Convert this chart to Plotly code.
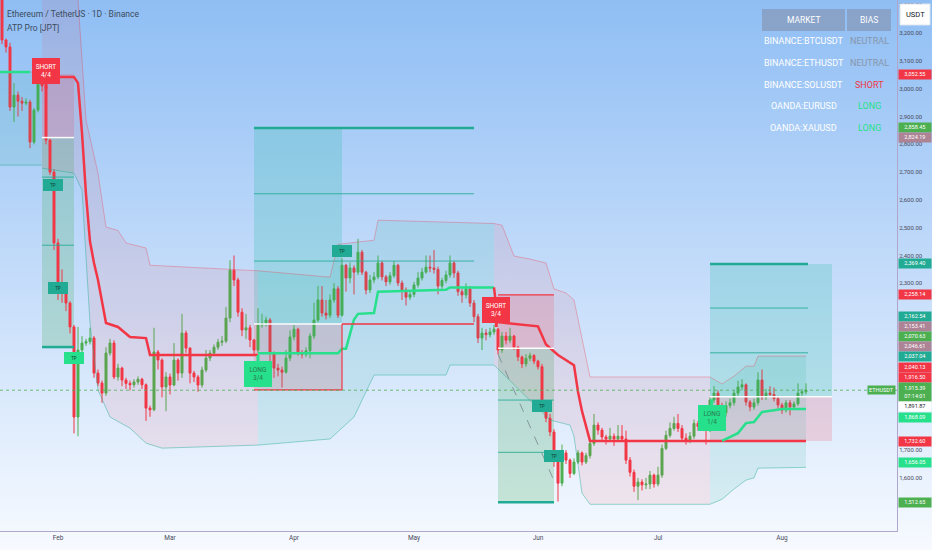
import pandas as pd
import plotly.graph_objects as go

# ---------------------------------------------------------------------------
# Daily candles (ETHUSDT, 1D), first candle 2025-01-18; open = previous close
# ---------------------------------------------------------------------------
FIRST_DAY = "2025-01-18"
first_open = 3330

closes = [
    3175, 3150, 2934, 2977, 2955, 2948, 2952, 2808, 2923, 3020,
    3010, 2815, 2700, 2445, 2286, 2265, 2229, 2143, 1819, 2060,
    2085, 2090, 2103, 1977, 1941, 1905, 2049, 2085, 1963, 1995,
    1952, 1940, 1935, 1945, 1955, 1935, 1851, 1845, 2053, 2024,
    1927, 1963, 1934, 2024, 1977, 2121, 2067, 1977, 1963, 1934,
    1988, 2031, 2049, 2070, 2088, 2092, 2175, 2347, 2312, 2196,
    2132, 2140, 2096, 2060, 2150, 2157, 2168, 2049, 1995, 1988,
    1980, 2031, 2107, 2135, 2049, 2045, 2057, 2110, 2168, 2240,
    2193, 2185, 2240, 2280, 2185, 2365, 2319, 2355, 2340, 2412,
    2340, 2276, 2312, 2323, 2373, 2323, 2305, 2327, 2365, 2301,
    2276, 2250, 2260, 2294, 2319, 2340, 2358, 2355, 2350, 2290,
    2310, 2330, 2373, 2337, 2270, 2258, 2280, 2229, 2180, 2103,
    2121, 2115, 2125, 2135, 2060, 2110, 2095, 2110, 2070, 2035,
    2010, 2030, 2040, 2020, 2000, 1855, 1815, 1765, 1664, 1581,
    1690, 1664, 1616, 1657, 1690, 1657, 1680, 1724, 1790, 1772,
    1747, 1740, 1750, 1740, 1750, 1740, 1664, 1620, 1570, 1585,
    1575, 1578, 1610, 1578, 1610, 1706, 1753, 1778, 1796, 1778,
    1743, 1735, 1750, 1796, 1785, 1800, 1772, 1880, 1905, 1860,
    1834, 1860, 1870, 1905, 1927, 1935, 1873, 1855, 1870, 1952,
    1890, 1905, 1900, 1885, 1862, 1844, 1870, 1855, 1866, 1905,
    1910, 1915.39,
]
highs = [
    3400, 3180, 3165, 3020, 2990, 2970, 2965, 2960, 2930, 3040,
    3025, 3030, 2820, 2710, 2460, 2350, 2290, 2235, 2150, 2143,
    2110, 2100, 2140, 2110, 1990, 1950, 2070, 2100, 2095, 2010,
    2000, 1960, 1950, 1955, 1965, 1960, 1940, 1860, 2140, 2060,
    2030, 1980, 1975, 2085, 2030, 2190, 2130, 2070, 1985, 1970,
    2000, 2060, 2060, 2080, 2100, 2110, 2215, 2383, 2400, 2320,
    2210, 2190, 2150, 2100, 2210, 2190, 2180, 2175, 2055, 2010,
    2000, 2060, 2130, 2150, 2140, 2060, 2070, 2120, 2230, 2290,
    2290, 2240, 2260, 2300, 2290, 2390, 2370, 2375, 2365, 2460,
    2420, 2345, 2330, 2340, 2400, 2380, 2330, 2340, 2380, 2370,
    2310, 2285, 2275, 2305, 2340, 2355, 2400, 2400, 2420, 2360,
    2320, 2345, 2400, 2380, 2345, 2280, 2300, 2290, 2240, 2190,
    2140, 2135, 2140, 2150, 2140, 2125, 2125, 2140, 2115, 2075,
    2040, 2045, 2050, 2045, 2025, 2010, 1870, 1830, 1775, 1680,
    1720, 1700, 1670, 1670, 1700, 1695, 1690, 1735, 1830, 1800,
    1780, 1755, 1780, 1760, 1790, 1790, 1770, 1675, 1630, 1600,
    1595, 1600, 1625, 1615, 1640, 1720, 1770, 1800, 1820, 1830,
    1790, 1760, 1765, 1810, 1805, 1830, 1810, 1890, 1930, 1915,
    1870, 1875, 1885, 1915, 1950, 1955, 1940, 1880, 1885, 1980,
    1990, 1920, 1930, 1925, 1895, 1870, 1880, 1880, 1875, 1940,
    1920, 1940,
]
lows = [
    3160, 3130, 2920, 2880, 2900, 2920, 2940, 2786, 2800, 2915,
    2990, 2800, 2690, 2420, 2240, 2230, 2200, 2120, 1760, 1750,
    2040, 2075, 2080, 1960, 1930, 1870, 1895, 2040, 1955, 1950,
    1930, 1920, 1915, 1925, 1935, 1920, 1805, 1820, 1840, 1990,
    1890, 1840, 1900, 1930, 1950, 1960, 2050, 1940, 1945, 1910,
    1925, 1980, 2020, 2040, 2060, 2075, 2085, 2160, 2290, 2180,
    2110, 2100, 2070, 2040, 2050, 2140, 2145, 2020, 1960, 1965,
    1925, 1975, 2020, 2095, 2040, 2030, 2035, 2030, 2100, 2160,
    2180, 2170, 2175, 2230, 2175, 2180, 2270, 2300, 2260, 2330,
    2330, 2260, 2265, 2300, 2315, 2310, 2290, 2295, 2320, 2290,
    2240, 2220, 2240, 2250, 2285, 2310, 2335, 2340, 2335, 2260,
    2280, 2300, 2320, 2320, 2255, 2230, 2245, 2215, 2160, 2085,
    2060, 2095, 2105, 2115, 2045, 2050, 2080, 2085, 2060, 2020,
    1995, 2000, 2020, 2010, 1990, 1845, 1800, 1750, 1640, 1515,
    1570, 1650, 1600, 1610, 1650, 1645, 1650, 1670, 1715, 1755,
    1735, 1720, 1735, 1715, 1735, 1730, 1650, 1605, 1550, 1520,
    1555, 1560, 1560, 1565, 1570, 1600, 1700, 1745, 1770, 1765,
    1730, 1720, 1725, 1740, 1770, 1775, 1720, 1765, 1870, 1800,
    1800, 1820, 1850, 1860, 1895, 1915, 1860, 1840, 1845, 1860,
    1880, 1880, 1890, 1875, 1850, 1830, 1835, 1825, 1845, 1860,
    1895, 1900,
]

# Axis ticks
month_ticks = ["2025-02-01", "2025-03-01", "2025-04-01", "2025-05-01",
               "2025-06-01", "2025-07-01", "2025-08-01"]
month_labels = ["Feb", "Mar", "Apr", "May", "Jun", "Jul", "Aug"]
price_ticks = list(range(1500, 3301, 100))

# ---------------------------------------------------------------------------
# ATP Pro indicator: trailing stop (short = red, long = green)
# ---------------------------------------------------------------------------
trail_long_0 = [("2025-01-17", 3060), ("2025-01-25", 3060)]
trail_short_1 = [("2025-01-29", 3042), ("2025-02-05", 3042), ("2025-02-06", 3020),
                 ("2025-02-07", 2840), ("2025-02-08", 2620), ("2025-02-09", 2450),
                 ("2025-02-10", 2373), ("2025-02-11", 2312), ("2025-02-13", 2157),
                 ("2025-02-16", 2143), ("2025-02-19", 2107), ("2025-02-23", 2103),
                 ("2025-02-24", 2042), ("2025-03-23", 2042)]
trail_long_2 = [("2025-03-23", 2048), ("2025-04-12", 2048), ("2025-04-13", 2065),
                ("2025-04-14", 2065), ("2025-04-16", 2170), ("2025-04-17", 2190),
                ("2025-04-21", 2193), ("2025-04-22", 2270), ("2025-05-09", 2277),
                ("2025-05-10", 2285), ("2025-05-21", 2285)]
trail_short_3 = [("2025-05-21", 2285), ("2025-05-22", 2160), ("2025-06-01", 2145),
                 ("2025-06-03", 2080), ("2025-06-06", 2042), ("2025-06-10", 2005),
                 ("2025-06-11", 1910), ("2025-06-12", 1840), ("2025-06-14", 1733),
                 ("2025-08-07", 1733)]
trail_long_4 = [("2025-07-17", 1733), ("2025-07-21", 1761), ("2025-07-23", 1797),
                ("2025-07-25", 1801), ("2025-07-27", 1837), ("2025-08-01", 1848),
                ("2025-08-07", 1848)]

# Volatility band (upper / lower) per regime
band_up_0 = [("2025-01-17", 3060), ("2025-01-28", 3060)]
band_lo_0 = [("2025-01-17", 2725), ("2025-01-28", 2725)]
band_up_a = [("2025-01-28", 3400), ("2025-02-06", 3320), ("2025-02-08", 2887),
             ("2025-02-11", 2696), ("2025-02-13", 2502), ("2025-02-16", 2490),
             ("2025-02-18", 2445), ("2025-02-23", 2427), ("2025-02-24", 2365),
             ("2025-03-23", 2345)]
band_lo_a = [("2025-01-28", 2714), ("2025-02-05", 2696), ("2025-02-07", 2635),
             ("2025-02-09", 2157), ("2025-02-11", 1916), ("2025-02-14", 1819),
             ("2025-02-19", 1779), ("2025-02-23", 1725), ("2025-02-27", 1707),
             ("2025-03-23", 1718)]
band_up_b = [("2025-03-23", 2345), ("2025-04-10", 2322), ("2025-04-12", 2440),
             ("2025-04-21", 2455), ("2025-04-22", 2527), ("2025-05-21", 2515)]
band_lo_b = [("2025-03-23", 1718), ("2025-04-10", 1740), ("2025-04-16", 1819),
             ("2025-04-21", 1970), ("2025-05-09", 1970), ("2025-05-10", 2006),
             ("2025-05-21", 2006)]
band_up_c = [("2025-05-21", 2515), ("2025-05-23", 2509), ("2025-05-26", 2398),
             ("2025-05-30", 2387), ("2025-06-03", 2373), ("2025-06-05", 2280),
             ("2025-06-08", 2265), ("2025-06-10", 2240), ("2025-06-14", 1963),
             ("2025-07-14", 1963)]
band_lo_c = [("2025-05-21", 2006), ("2025-06-04", 1808), ("2025-06-09", 1790),
             ("2025-06-10", 1750), ("2025-06-12", 1545), ("2025-06-14", 1505),
             ("2025-07-14", 1505)]
band_up_d = [("2025-07-14", 1963), ("2025-07-17", 1938), ("2025-07-20", 1966),
             ("2025-07-23", 2002), ("2025-07-25", 2002), ("2025-07-26", 2038),
             ("2025-08-07", 2038)]
band_lo_d = [("2025-07-14", 1505), ("2025-07-17", 1523), ("2025-07-20", 1560),
             ("2025-07-23", 1592), ("2025-07-25", 1600), ("2025-07-26", 1635),
             ("2025-08-07", 1638)]

# Positions (entry / stop / target / take-profit levels)
pos_side = ["short", "long", "short", "long"]
pos_start = ["2025-01-28", "2025-03-22", "2025-05-22", "2025-07-14"]
pos_box_end = ["2025-02-05", "2025-04-13", "2025-06-05", "2025-08-13 12:00"]
pos_line_end = ["2025-02-05", "2025-05-16", "2025-06-05", "2025-08-07 12:00"]
pos_entry = [2824.19, 2153.41, 2066.61, 1891.87]
pos_stop = [3052.55, 1916.50, 2258.14, 1732.60]
pos_target = [2070.63, 2858.45, 1512.65, 2369.40]
pos_tp1 = [2682, 2622, 1880, 2050]
pos_tp2 = [2437, 2380, 1692, 2211]

# dashed trade path of the 3/4 short
path_c = [("2025-05-22", 2045), ("2025-06-05", 1590)]

# Signal labels
sig_dates = ["2025-01-29", "2025-03-23", "2025-05-21 14:00", "2025-07-14 10:00"]
sig_prices = [3002, 2042, 2143, 1883]
sig_texts = ["SHORT<br>4/4", "LONG<br>3/4", "SHORT<br>3/4", "LONG<br>1/4"]

# Take-profit hit markers
tp_dates = ["2025-01-30 18:00", "2025-02-01", "2025-02-05", "2025-04-13",
            "2025-06-02", "2025-06-05"]
tp_prices = [2653, 2282, 2031, 2416, 1859, 1679]
tp_final = [False, False, True, False, False, False]

# Right-axis price tags (display order, top to bottom)
tag_values = [3052.55, 2858.45, 2824.19, 2369.40, 2258.14, 2162.54, 2153.41,
              2070.63, 2046.61, 2037.04, 2040.13, 1916.50, 1915.39, 1891.87,
              1868.09, 1732.60, 1656.05, 1512.65]
tag_kinds = ["stop", "target", "entry", "tp", "stop", "tp", "entry",
             "target", "entry", "tp", "stop", "stop", "last", "open",
             "trail", "stop", "trail", "target"]
last_price = 1915.39
countdown = "07:14:01"

# Bias table
markets = ["BINANCE:BTCUSDT", "BINANCE:ETHUSDT", "BINANCE:SOLUSDT",
           "OANDA:EURUSD", "OANDA:XAUUSD"]
biases = ["NEUTRAL", "NEUTRAL", "SHORT", "LONG", "LONG"]

# ---------------------------------------------------------------------------
# Styling
# ---------------------------------------------------------------------------
RED = "#f23645"
GREEN = "#4caf50"
LIME = "#27e08b"
TEAL = "#22ab94"
MAUVE = "#ad8496"
W, H = 932, 550
PLOT_W, PLOT_H = 897, 531
Y0, Y1 = 1409, 3319
X_RANGE = ["2025-01-17 12:00", "2025-08-29 18:00"]


def py(ypix):
    """Pixel row (from plot top) -> paper y."""
    return 1 - ypix / PLOT_H


def px(xpix):
    return xpix / PLOT_W


def price_to_px(p):
    return (Y1 - p) / (Y1 - Y0) * PLOT_H


dates = pd.date_range(FIRST_DAY, periods=len(closes), freq="D")
opens = [first_open] + closes[:-1]

fig = go.Figure()

# position boxes
for side, s, be, le, en, st, tg, t1, t2 in zip(pos_side, pos_start, pos_box_end,
                                                pos_line_end, pos_entry, pos_stop,
                                                pos_target, pos_tp1, pos_tp2):
    tgt_fill = "rgba(76,175,100,0.25)" if side == "short" else "rgba(34,185,165,0.22)"
    fig.add_shape(type="rect", layer="below", x0=s, x1=be, y0=en, y1=tg,
                  fillcolor=tgt_fill, line_width=0)
    fig.add_shape(type="rect", layer="below", x0=s, x1=be, y0=en, y1=st,
                  fillcolor="rgba(242,54,69,0.17)", line_width=0)
    fig.add_shape(type="line", x0=s, x1=le, y0=tg, y1=tg,
                  line=dict(color=TEAL, width=2.5))
    for tp in (t1, t2):
        fig.add_shape(type="line", x0=s, x1=le, y0=tp, y1=tp,
                      line=dict(color="rgba(34,171,148,0.85)", width=1))
    fig.add_shape(type="line", x0=s, x1=be, y0=en, y1=en,
                  line=dict(color="rgba(255,255,255,0.95)", width=1.5))
    if pd.Timestamp(le) > pd.Timestamp(be):
        # stop moved to entry: red guide continues after the box
        fig.add_shape(type="line", x0=be, x1=le, y0=en, y1=en,
                      line=dict(color=RED, width=1.5))
        fig.add_shape(type="line", x0=be, x1=be, y0=st, y1=en,
                      line=dict(color=RED, width=1.2))
        fig.add_shape(type="line", x0=s, x1=be, y0=st, y1=st,
                      line=dict(color=RED, width=1.2))
    if side == "short" and s > "2025-05-01":
        fig.add_shape(type="line", x0=s, x1=be, y0=st, y1=st,
                      line=dict(color=RED, width=1.2))

# band fills and edges
bands = [(band_up_0, band_lo_0, "long"), (band_up_a, band_lo_a, "short"),
         (band_up_b, band_lo_b, "long"), (band_up_c, band_lo_c, "short"),
         (band_up_d, band_lo_d, "long")]
for up, lo, regime in bands:
    fill = "rgba(242,54,69,0.09)" if regime == "short" else "rgba(34,171,148,0.12)"
    xs = [d for d, _ in up] + [d for d, _ in lo][::-1]
    ys = [v for _, v in up] + [v for _, v in lo][::-1]
    fig.add_trace(go.Scatter(x=xs, y=ys, fill="toself", fillcolor=fill,
                             mode="lines", line=dict(width=0),
                             hoverinfo="skip", showlegend=False))
    fig.add_trace(go.Scatter(x=[d for d, _ in up], y=[v for _, v in up],
                             mode="lines", line=dict(color="rgba(242,54,69,0.32)", width=1),
                             hoverinfo="skip", showlegend=False))
    fig.add_trace(go.Scatter(x=[d for d, _ in lo], y=[v for _, v in lo],
                             mode="lines", line=dict(color="rgba(34,171,148,0.45)", width=1),
                             hoverinfo="skip", showlegend=False))

# dashed trade path
fig.add_trace(go.Scatter(x=[d for d, _ in path_c], y=[v for _, v in path_c],
                         mode="lines", line=dict(color="rgba(110,120,130,0.7)",
                                                 width=1, dash="dash"),
                         hoverinfo="skip", showlegend=False))

# candles
fig.add_trace(go.Candlestick(
    x=dates, open=opens, high=highs, low=lows, close=closes,
    increasing=dict(line=dict(color=GREEN, width=1), fillcolor=GREEN),
    decreasing=dict(line=dict(color=RED, width=1), fillcolor=RED),
    whiskerwidth=0, hoverinfo="skip", showlegend=False,
))

# trailing stop
for seg, col in [(trail_long_0, LIME), (trail_short_1, RED), (trail_long_2, LIME),
                 (trail_short_3, RED), (trail_long_4, LIME)]:
    fig.add_trace(go.Scatter(x=[d for d, _ in seg], y=[v for _, v in seg],
                             mode="lines", line=dict(color=col, width=2.5),
                             hoverinfo="skip", showlegend=False))

# last price dotted line
fig.add_shape(type="line", xref="paper", x0=0, x1=1, y0=last_price, y1=last_price,
              line=dict(color="rgba(76,175,80,0.8)", width=1, dash="dot"))

# signal labels
for d, p, t in zip(sig_dates, sig_prices, sig_texts):
    is_short = t.startswith("SHORT")
    col = RED if is_short else LIME
    fig.add_annotation(x=d, y=p, text=t, showarrow=True, arrowhead=0,
                       arrowwidth=3, arrowcolor=col, ax=0,
                       ay=-17 if is_short else 19, standoff=0,
                       bgcolor=col, bordercolor=col, borderpad=2,
                       font=dict(size=6.5, color="white" if is_short else "#2a7a52"),
                       width=22, height=20, xanchor="center", yanchor="middle")

# TP hit markers
for d, p, fin in zip(tp_dates, tp_prices, tp_final):
    col = LIME if fin else TEAL
    fig.add_annotation(x=d, y=p, text="TP", showarrow=False, bgcolor=col,
                       bordercolor=col, borderpad=1, width=16, height=8,
                       xanchor="center", yanchor="middle",
                       font=dict(size=4.5, color="#0d3b33"))

# right axis price tags with simple overlap relaxation
tag_colors = {"stop": (RED, "white"), "target": (GREEN, "white"),
              "entry": (MAUVE, "white"), "tp": (TEAL, "white"),
              "last": (GREEN, "white"), "open": ("#ffffff", "#131722"),
              "trail": (LIME, "white")}
heights = [19.5 if k == "last" else 10.2 for k in tag_kinds]
pos = [price_to_px(v) + (4.5 if k == "last" else 0) for v, k in zip(tag_values, tag_kinds)]
for _ in range(400):
    for k in range(len(pos) - 1):
        need = (heights[k] + heights[k + 1]) / 2
        gap = pos[k + 1] - pos[k]
        if gap < need:
            d = (need - gap) / 2
            pos[k] -= d
            pos[k + 1] += d
for v, k, yp, h in zip(tag_values, tag_kinds, pos, heights):
    bg, fg = tag_colors[k]
    txt = f"{v:,.2f}" if k != "last" else f"{v:,.2f}<br>{countdown}"
    fig.add_annotation(xref="paper", x=1, xanchor="left", xshift=1,
                       yref="paper", y=py(yp), yanchor="middle",
                       text=txt, showarrow=False, bgcolor=bg,
                       font=dict(size=5.5, color=fg), width=31, height=h - 2.2,
                       borderpad=0.4)
fig.add_annotation(xref="paper", x=1, xanchor="right", xshift=-1,
                   yref="y", y=last_price, yanchor="middle", text="ETHUSDT",
                   showarrow=False, bgcolor=GREEN, font=dict(size=5.5, color="white"),
                   borderpad=1)

# axis grid labels hidden where a tag covers them (as TradingView does)
tick_text = []
for t in price_ticks:
    ty = price_to_px(t)
    covered = any(abs(ty - yp) < h / 2 + 1 for yp, h in zip(pos, heights))
    tick_text.append("" if covered else f"{t:,.2f}")

# USDT unit box
fig.add_shape(type="rect", xref="paper", yref="paper", x0=px(900), x1=px(930),
              y0=py(25), y1=py(4), fillcolor="white", line=dict(color="#dfe4ee", width=1))
fig.add_annotation(xref="paper", yref="paper", x=px(915), y=py(14.5), text="USDT",
                   xanchor="center", yanchor="middle",
                   showarrow=False, font=dict(size=7.5, color="#131722"))

# title
fig.add_annotation(xref="paper", yref="paper", x=px(5), y=py(14), xanchor="left",
                   yanchor="middle", text="Ethereum / TetherUS · 1D · Binance",
                   showarrow=False, font=dict(size=8.5, color="#3d4b5c"))
fig.add_annotation(xref="paper", yref="paper", x=px(5), y=py(28), xanchor="left",
                   yanchor="middle", text="ATP Pro [JPT]", showarrow=False,
                   font=dict(size=8.5, color="#3d4b5c"))

# bias table
for x0, x1 in ((762, 845), (847, 891)):
    fig.add_shape(type="rect", xref="paper", yref="paper", x0=px(x0), x1=px(x1),
                  y0=py(31), y1=py(9), fillcolor="rgba(135,155,190,0.8)", line_width=0)
fig.add_annotation(xref="paper", yref="paper", x=px(803.5), y=py(20), text="MARKET",
                   xanchor="center", yanchor="middle",
                   showarrow=False, font=dict(size=8.5, color="white"))
fig.add_annotation(xref="paper", yref="paper", x=px(869), y=py(20), text="BIAS",
                   xanchor="center", yanchor="middle",
                   showarrow=False, font=dict(size=8.5, color="white"))
bias_colors = {"NEUTRAL": "#8796aa", "SHORT": RED, "LONG": LIME}
for k, (m, b) in enumerate(zip(markets, biases)):
    yrow = py(41 + 21.8 * k)
    fig.add_annotation(xref="paper", yref="paper", x=px(803.5), y=yrow, text=m,
                       xanchor="center", yanchor="middle",
                       showarrow=False, font=dict(size=9, color="white"))
    fig.add_annotation(xref="paper", yref="paper", x=px(869), y=yrow, text=b,
                       xanchor="center", yanchor="middle",
                       showarrow=False, font=dict(size=9, color=bias_colors[b]))

fig.update_layout(
    width=W, height=H,
    margin=dict(l=0, r=W - PLOT_W, t=0, b=H - PLOT_H),
    paper_bgcolor="rgba(0,0,0,0)",
    plot_bgcolor="rgba(0,0,0,0)",
    font=dict(family="Roboto, Open Sans, sans-serif", color="#3c3c4c"),
    showlegend=False,
    hovermode=False,
)
fig.update_xaxes(
    type="date", range=X_RANGE, rangeslider_visible=False,
    tickvals=month_ticks, ticktext=month_labels,
    tickfont=dict(size=6.5, color="#4a4a5a"), ticks="", showgrid=False,
    zeroline=False, showline=True, linecolor="#b0a6cc", linewidth=1,
)
fig.update_yaxes(
    side="right", range=[Y0, Y1], tickvals=price_ticks, ticktext=tick_text,
    tickfont=dict(size=6, color="#4a4a5a"), ticks="", showgrid=False,
    zeroline=False, showline=True, linecolor="#b0a6cc", linewidth=1,
)

# page: no body margin, TradingView-like blue gradient behind the chart
page_style = (
    "document.body.style.margin='0';"
    "document.getElementById('{plot_id}').style.background="
    "'linear-gradient(to bottom, rgb(143,190,244) 0%, rgb(196,220,250) 50%, rgb(247,250,255) 100%)';"
)
fig.write_html("out.html", config={"displayModeBar": False}, post_script=page_style)
